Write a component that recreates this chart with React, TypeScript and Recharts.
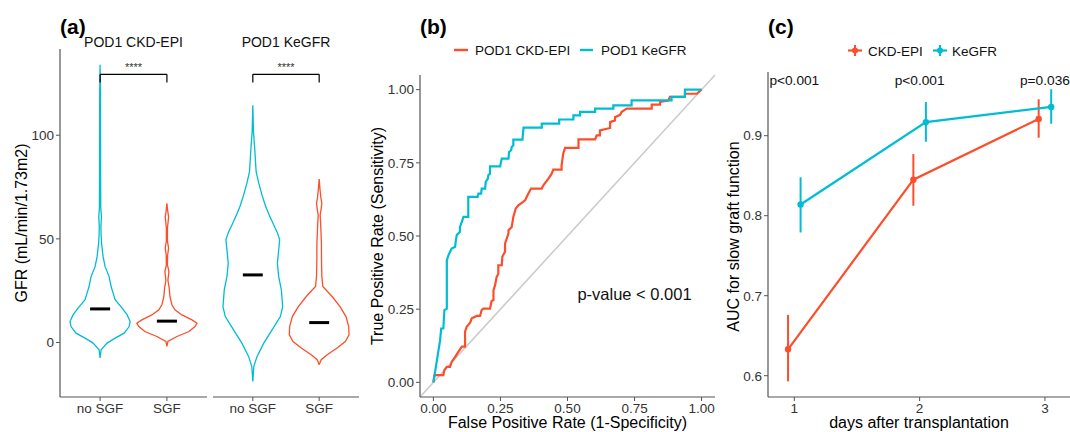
import React from 'react';
import { ComposedChart, Line, XAxis, YAxis, ReferenceLine, ReferenceDot, ErrorBar } from 'recharts';

const FONT = 'Liberation Sans, Arial, sans-serif';
const RED = '#FC4E2A';
const CYAN = '#00BCD4';
const AXIS = '#555555';
const TICK_TEXT = '#333333';

// ---- panel (a): violin outlines, GFR level + half width (category units)
const groupLabels = ['no SGF', 'SGF'];
const facetTitles = ['POD1 CKD-EPI', 'POD1 KeGFR'];

const ckdNoSgfGfr = [-7.5, -3.5, -0.3, 2.1, 4.5, 7.7, 10.1, 13.3, 16.6, 20.6, 23.8, 27.0, 31.8, 36.6, 41.4, 47.9, 52, 56, 60.5, 65, 80, 100, 120, 134];
const ckdNoSgfHalf = [0, 0.015, 0.105, 0.225, 0.36, 0.435, 0.45, 0.405, 0.33, 0.225, 0.195, 0.165, 0.135, 0.075, 0.045, 0.022, 0.015, 0.012, 0.02, 0.01, 0.008, 0.007, 0.006, 0];

const ckdSgfGfr = [-1.9, 0.5, 2.9, 5.3, 7.7, 9.3, 10.9, 13.3, 15.8, 18.2, 22.2, 26.2, 30, 34.2, 37.4, 42, 45.5, 49, 55, 60.5, 64, 67.1];
const ckdSgfHalf = [0, 0.015, 0.15, 0.33, 0.42, 0.45, 0.375, 0.225, 0.12, 0.075, 0.045, 0.035, 0.015, 0.03, 0.008, 0.01, 0.025, 0.008, 0.008, 0.025, 0.01, 0];

const kegfrNoSgfGfr = [-18.8, -11.6, -6.7, -0.3, 6.1, 12.5, 17.3, 25.4, 31.8, 38.2, 44.7, 49.5, 53, 57, 62, 66, 71, 76.8, 82.4, 92.8, 101.6, 114.4];
const kegfrNoSgfHalf = [0, 0.015, 0.064, 0.165, 0.29, 0.415, 0.45, 0.43, 0.39, 0.37, 0.39, 0.405, 0.37, 0.31, 0.24, 0.19, 0.14, 0.09, 0.05, 0.03, 0.01, 0];

const kegfrSgfGfr = [-10.7, -8.3, -5.9, -2.7, 0.5, 3.7, 7.7, 12.5, 17.3, 22.2, 27, 31.8, 40, 47.9, 55, 61.5, 64.5, 67.2, 70, 74, 78.9];
const kegfrSgfHalf = [0, 0.03, 0.12, 0.27, 0.394, 0.45, 0.445, 0.404, 0.314, 0.195, 0.055, 0.04, 0.035, 0.034, 0.025, 0.015, 0.03, 0.04, 0.025, 0.012, 0];

const medianCkd = [16.2, 10.3];
const medianKegfr = [32.6, 9.6];
const bracketGfr = 129.4;
const bracketTick = 125.4;
const signif = '****';

// ---- panel (b): ROC curve corners
const rocNames = ['POD1 CKD-EPI', 'POD1 KeGFR'];
const rocCkdFpr = [0, 0.004, 0.037, 0.041, 0.05, 0.062, 0.068, 0.081, 0.093, 0.106, 0.118, 0.118, 0.124, 0.137, 0.143, 0.162, 0.174, 0.18, 0.186, 0.211, 0.217, 0.224, 0.224, 0.23, 0.236, 0.242, 0.242, 0.255, 0.257, 0.267, 0.267, 0.28, 0.28, 0.292, 0.298, 0.307, 0.317, 0.342, 0.348, 0.364, 0.404, 0.41, 0.429, 0.441, 0.447, 0.478, 0.478, 0.484, 0.491, 0.541, 0.541, 0.603, 0.609, 0.621, 0.621, 0.659, 0.659, 0.677, 0.677, 0.696, 0.702, 0.721, 0.814, 0.814, 0.845, 0.845, 0.876, 0.882, 0.938, 0.938, 0.982, 1];
const rocCkdTpr = [0, 0.025, 0.025, 0.042, 0.053, 0.053, 0.07, 0.087, 0.104, 0.122, 0.122, 0.173, 0.19, 0.204, 0.219, 0.227, 0.227, 0.247, 0.252, 0.252, 0.278, 0.281, 0.315, 0.332, 0.361, 0.37, 0.4, 0.4, 0.429, 0.446, 0.474, 0.509, 0.52, 0.531, 0.565, 0.594, 0.605, 0.622, 0.634, 0.662, 0.662, 0.673, 0.696, 0.713, 0.727, 0.727, 0.741, 0.781, 0.801, 0.801, 0.83, 0.83, 0.844, 0.844, 0.861, 0.869, 0.889, 0.895, 0.906, 0.914, 0.924, 0.935, 0.935, 0.949, 0.949, 0.958, 0.963, 0.975, 0.975, 0.986, 0.986, 1];
const rocKegfrFpr = [0, 0.025, 0.029, 0.037, 0.041, 0.05, 0.05, 0.056, 0.062, 0.068, 0.081, 0.083, 0.087, 0.099, 0.099, 0.106, 0.112, 0.13, 0.13, 0.165, 0.168, 0.178, 0.18, 0.193, 0.195, 0.203, 0.205, 0.211, 0.211, 0.249, 0.252, 0.255, 0.28, 0.282, 0.29, 0.292, 0.298, 0.298, 0.332, 0.336, 0.404, 0.404, 0.469, 0.469, 0.522, 0.522, 0.547, 0.547, 0.603, 0.603, 0.671, 0.671, 0.739, 0.739, 0.888, 0.888, 0.938, 0.938, 1];
const rocKegfrTpr = [0, 0.144, 0.184, 0.184, 0.247, 0.252, 0.417, 0.434, 0.446, 0.457, 0.463, 0.48, 0.503, 0.514, 0.531, 0.548, 0.565, 0.565, 0.634, 0.634, 0.645, 0.645, 0.662, 0.662, 0.685, 0.696, 0.708, 0.713, 0.738, 0.738, 0.753, 0.764, 0.764, 0.787, 0.793, 0.804, 0.81, 0.829, 0.829, 0.87, 0.87, 0.884, 0.884, 0.898, 0.898, 0.912, 0.912, 0.924, 0.924, 0.935, 0.935, 0.946, 0.946, 0.963, 0.963, 0.975, 0.975, 1, 1];
const rocNote = 'p-value < 0.001';

// ---- panel (c): AUC by day
const aucNames = ['CKD-EPI', 'KeGFR'];
const days = [1, 2, 3];
const aucCkd = [0.633, 0.845, 0.921];
const aucCkdLo = [0.593, 0.8125, 0.8975];
const aucCkdHi = [0.676, 0.877, 0.9455];
const aucKegfr = [0.814, 0.917, 0.936];
const aucKegfrLo = [0.779, 0.8925, 0.915];
const aucKegfrHi = [0.848, 0.942, 0.958];
const dayPLabels = ['p<0.001', 'p<0.001', 'p=0.036'];

const DODGE = 0.05;

function buildViolin(center: number, gfr: number[], half: number[]) {
  const right = gfr.map((g, i) => ({ x: center + half[i], y: g }));
  const left = gfr.map((g, i) => ({ x: center - half[i], y: g })).reverse();
  return [...right, ...left];
}

function buildAuc(offset: number, auc: number[], lo: number[], hi: number[]) {
  return days.map((d, i) => ({ x: d + offset, y: auc[i], err: [auc[i] - lo[i], hi[i] - auc[i]] }));
}

const tickStyle = { fill: TICK_TEXT, fontSize: 13.5, fontFamily: FONT };

function ViolinFacet({ left, width, showY, noSgf, sgf, medians }: any) {
  return (
    <div style={{ position: 'absolute', left, top: 0 }}>
      <ComposedChart width={width} height={432} margin={{ top: 49, right: 1, bottom: 0, left: 0 }}>
        <XAxis
          type="number"
          dataKey="x"
          domain={[0.4, 2.6]}
          ticks={[1, 2]}
          allowDataOverflow
          tickFormatter={(v: number) => groupLabels[Math.round(v) - 1]}
          height={35}
          axisLine={{ stroke: AXIS, strokeWidth: 1.2 }}
          tickLine={{ stroke: AXIS }}
          tickSize={4}
          tick={tickStyle}
        />
        <YAxis
          type="number"
          domain={[-26.3, 141.6]}
          ticks={[0, 50, 100]}
          allowDataOverflow
          hide={!showY}
          width={60}
          axisLine={{ stroke: AXIS, strokeWidth: 1.2 }}
          tickLine={{ stroke: AXIS }}
          tickSize={4}
          tick={tickStyle}
        />
        <Line data={noSgf} dataKey="y" stroke={CYAN} strokeWidth={1.3} dot={false} isAnimationActive={false} />
        <Line data={sgf} dataKey="y" stroke={RED} strokeWidth={1.3} dot={false} isAnimationActive={false} />
        {medians.map((m: number, i: number) => (
          <ReferenceLine
            key={i}
            segment={[{ x: i + 1 - 0.15, y: m }, { x: i + 1 + 0.15, y: m }]}
            stroke="#000"
            strokeWidth={3}
          />
        ))}
        <ReferenceLine segment={[{ x: 1, y: bracketGfr }, { x: 2, y: bracketGfr }]} stroke="#000" strokeWidth={1.2} />
        <ReferenceLine segment={[{ x: 1, y: bracketTick }, { x: 1, y: bracketGfr }]} stroke="#000" strokeWidth={1.2} />
        <ReferenceLine segment={[{ x: 2, y: bracketTick }, { x: 2, y: bracketGfr }]} stroke="#000" strokeWidth={1.2} />
        <ReferenceDot
          x={1.5}
          y={bracketGfr}
          r={0}
          fill="none"
          stroke="none"
          label={{ value: signif, position: 'top', offset: 3, fontSize: 11, fill: '#333', fontFamily: FONT }}
        />
      </ComposedChart>
    </div>
  );
}

export default function App() {
  const rocCkd = rocCkdFpr.map((f, i) => ({ x: f, y: rocCkdTpr[i] }));
  const rocKegfr = rocKegfrFpr.map((f, i) => ({ x: f, y: rocKegfrTpr[i] }));
  const rocTicks = [0, 0.25, 0.5, 0.75, 1];

  return (
    <div style={{ position: 'absolute', left: 0, top: 0, width: 1070, height: 432, background: '#fff', fontFamily: FONT, overflow: 'hidden' }}>
      <ViolinFacet
        left={0}
        width={208}
        showY
        noSgf={buildViolin(1, ckdNoSgfGfr, ckdNoSgfHalf)}
        sgf={buildViolin(2, ckdSgfGfr, ckdSgfHalf)}
        medians={medianCkd}
      />
      <ViolinFacet
        left={213}
        width={147}
        showY={false}
        noSgf={buildViolin(1, kegfrNoSgfGfr, kegfrNoSgfHalf)}
        sgf={buildViolin(2, kegfrSgfGfr, kegfrSgfHalf)}
        medians={medianKegfr}
      />

      {/* (b) ROC */}
      <div style={{ position: 'absolute', left: 360, top: 0 }}>
        <ComposedChart width={360} height={432} margin={{ top: 75, right: 5, bottom: 0, left: 0 }}>
          <XAxis
            type="number"
            dataKey="x"
            domain={[-0.05, 1.05]}
            ticks={rocTicks}
            allowDataOverflow
            tickFormatter={(v: number) => v.toFixed(2)}
            height={35}
            axisLine={{ stroke: AXIS, strokeWidth: 1.2 }}
            tickLine={{ stroke: AXIS }}
            tickSize={4}
            tick={tickStyle}
          />
          <YAxis
            type="number"
            domain={[-0.05, 1.05]}
            ticks={rocTicks}
            allowDataOverflow
            tickFormatter={(v: number) => v.toFixed(2)}
            width={60}
            axisLine={{ stroke: AXIS, strokeWidth: 1.2 }}
            tickLine={{ stroke: AXIS }}
            tickSize={4}
            tick={tickStyle}
          />
          <ReferenceLine
            segment={[{ x: -0.05, y: -0.05 }, { x: 1.05, y: 1.05 }]}
            stroke="#cccccc"
            strokeWidth={1.6}
            ifOverflow="visible"
          />
          <Line data={rocCkd} dataKey="y" name={rocNames[0]} stroke={RED} strokeWidth={2.2} dot={false} isAnimationActive={false} />
          <Line data={rocKegfr} dataKey="y" name={rocNames[1]} stroke={CYAN} strokeWidth={2.2} dot={false} isAnimationActive={false} />
          <ReferenceDot
            x={0.75}
            y={0.3}
            r={0}
            fill="none"
            stroke="none"
            label={{ value: rocNote, position: 'center', fontSize: 16.5, fill: '#111', fontFamily: FONT }}
          />
        </ComposedChart>
      </div>

      {/* (c) AUC */}
      <div style={{ position: 'absolute', left: 720, top: 0 }}>
        <ComposedChart width={350} height={432} margin={{ top: 72, right: 0, bottom: 0, left: 0 }}>
          <XAxis
            type="number"
            dataKey="x"
            domain={[0.79, 3.2]}
            ticks={days}
            allowDataOverflow
            height={35}
            axisLine={{ stroke: AXIS, strokeWidth: 1.2 }}
            tickLine={{ stroke: AXIS }}
            tickSize={4}
            tick={tickStyle}
          />
          <YAxis
            type="number"
            domain={[0.5734, 0.9796]}
            ticks={[0.6, 0.7, 0.8, 0.9]}
            allowDataOverflow
            tickFormatter={(v: number) => v.toFixed(1)}
            width={48}
            axisLine={{ stroke: AXIS, strokeWidth: 1.2 }}
            tickLine={{ stroke: AXIS }}
            tickSize={4}
            tick={tickStyle}
          />
          <Line
            data={buildAuc(-DODGE, aucCkd, aucCkdLo, aucCkdHi)}
            dataKey="y"
            name={aucNames[0]}
            stroke={RED}
            strokeWidth={2.2}
            dot={{ r: 3.2, fill: RED, stroke: RED, strokeWidth: 0 }}
            isAnimationActive={false}
          >
            <ErrorBar dataKey="err" direction="y" width={0} stroke={RED} strokeWidth={2} />
          </Line>
          <Line
            data={buildAuc(DODGE, aucKegfr, aucKegfrLo, aucKegfrHi)}
            dataKey="y"
            name={aucNames[1]}
            stroke={CYAN}
            strokeWidth={2.2}
            dot={{ r: 3.2, fill: CYAN, stroke: CYAN, strokeWidth: 0 }}
            isAnimationActive={false}
          >
            <ErrorBar dataKey="err" direction="y" width={0} stroke={CYAN} strokeWidth={2} />
          </Line>
          {days.map((d, i) => (
            <ReferenceDot
              key={d}
              x={d}
              y={0.97}
              r={0}
              fill="none"
              stroke="none"
              ifOverflow="visible"
              label={{ value: dayPLabels[i], position: 'center', fontSize: 13.7, fill: '#111', fontFamily: FONT }}
            />
          ))}
        </ComposedChart>
      </div>

      {/* titles, legends */}
      <svg width={1070} height={432} style={{ position: 'absolute', left: 0, top: 0, pointerEvents: 'none' }} fontFamily={FONT}>
        <text x={60} y={34} fontSize={21} fontWeight="bold" fill="#000">(a)</text>
        <text x={420} y={34} fontSize={21} fontWeight="bold" fill="#000">(b)</text>
        <text x={768} y={34} fontSize={21} fontWeight="bold" fill="#000">(c)</text>

        <text x={133.5} y={47} fontSize={14} textAnchor="middle" fill="#111">{facetTitles[0]}</text>
        <text x={286} y={47} fontSize={14} textAnchor="middle" fill="#111">{facetTitles[1]}</text>

        <text x={27} y={223} fontSize={16} textAnchor="middle" fill="#000" transform="rotate(-90 27 223)">GFR (mL/min/1.73m2)</text>
        <text x={382.5} y={236} fontSize={16} textAnchor="middle" fill="#000" transform="rotate(-90 382.5 236)">True Positive Rate (Sensitivity)</text>
        <text x={739} y={236.5} fontSize={16} textAnchor="middle" fill="#000" transform="rotate(-90 739 236.5)">AUC for slow graft function</text>

        <text x={567.5} y={428} fontSize={16} textAnchor="middle" fill="#000">False Positive Rate (1-Specificity)</text>
        <text x={919} y={428} fontSize={16} textAnchor="middle" fill="#000">days after transplantation</text>

        {/* legend (b) */}
        <line x1={454} x2={468} y1={50} y2={50} stroke={RED} strokeWidth={2.4} />
        <text x={475} y={55} fontSize={13.5} fill="#111">{rocNames[0]}</text>
        <line x1={580} x2={593} y1={50} y2={50} stroke={CYAN} strokeWidth={2.4} />
        <text x={601} y={55} fontSize={13.5} fill="#111">{rocNames[1]}</text>

        {/* legend (c) */}
        <line x1={848} x2={862} y1={50.5} y2={50.5} stroke={RED} strokeWidth={2.2} />
        <line x1={855} x2={855} y1={45} y2={56} stroke={RED} strokeWidth={2} />
        <circle cx={855} cy={50.5} r={3} fill={RED} />
        <text x={868} y={55.5} fontSize={13.5} fill="#111">{aucNames[0]}</text>
        <line x1={933} x2={947} y1={50.5} y2={50.5} stroke={CYAN} strokeWidth={2.2} />
        <line x1={940} x2={940} y1={45} y2={56} stroke={CYAN} strokeWidth={2} />
        <circle cx={940} cy={50.5} r={3} fill={CYAN} />
        <text x={952} y={55.5} fontSize={13.5} fill="#111">{aucNames[1]}</text>
      </svg>
    </div>
  );
}
